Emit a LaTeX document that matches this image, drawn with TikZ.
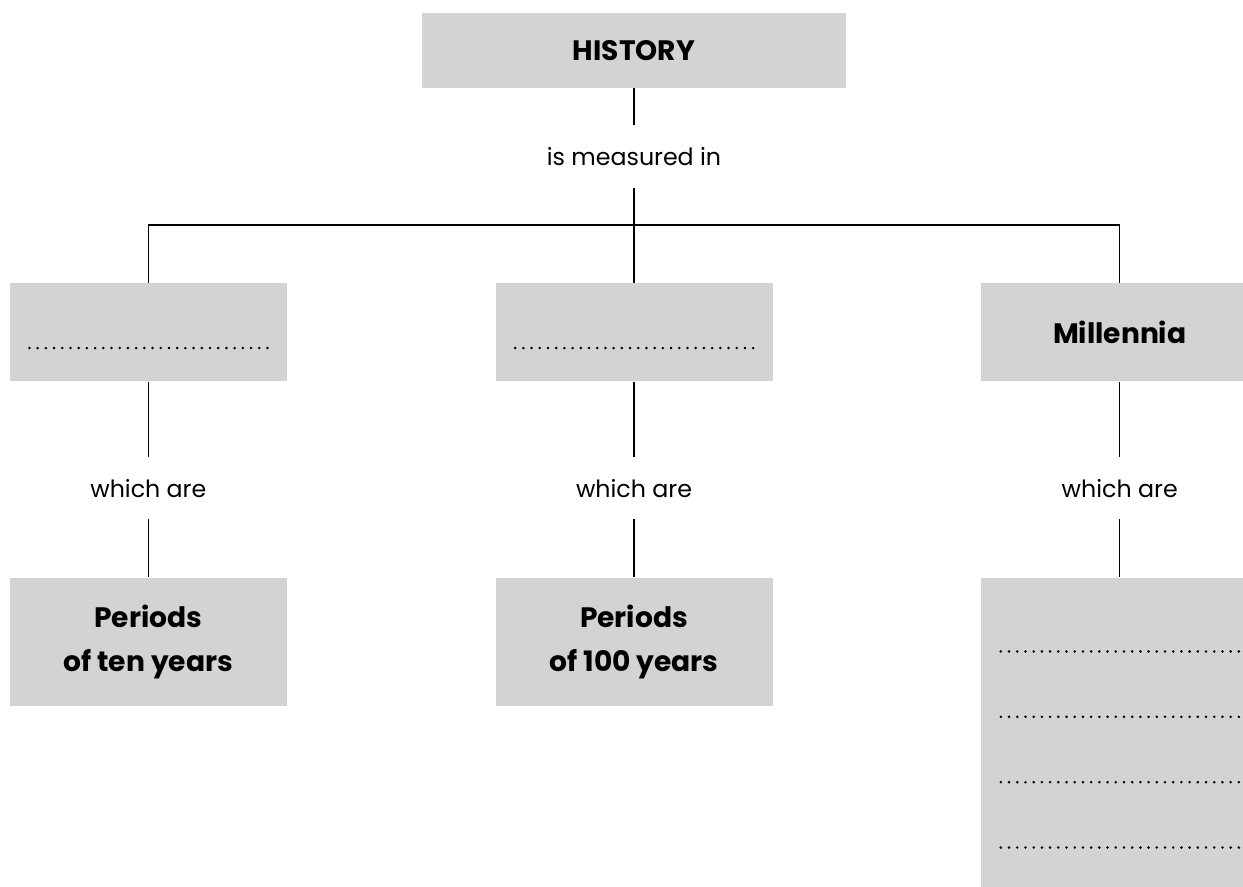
\documentclass[tikz,border=0pt]{standalone}
\usepackage{fontspec}
\setmainfont{Poppins}
\usepackage{xcolor}
\usepackage{tikz}
\usetikzlibrary{positioning,calc}
\definecolor{boxgray}{RGB}{209,211,212}
\tikzset{
    conceptbox/.style={fill=boxgray, align=center, inner sep=0pt, minimum width=5.54cm, minimum height=1.96cm, font=\fontsize{16}{25}\selectfont\bfseries},
    conceptlink/.style={align=center, inner sep=0pt, minimum height=1.24cm, font=\fontsize{13.5}{16}\selectfont},
    conceptline/.style={draw, line width=0.8pt},
    conceptgap/.style={draw, line width=1.6pt, line cap=round, dash pattern=on 0pt off 4.67pt}
}

\begin{document}
\begin{tikzpicture}[node distance=1.5cm and 4.16cm]
    \useasboundingbox (0,0) rectangle (24.86,-17.72);
    \clip (0,0) rectangle (24.86,-17.72);
    \node[conceptbox, minimum width=8.48cm, minimum height=1.5cm] (history) at (12.68,-1.01) {HISTORY};
    \node[conceptlink, below=0.74cm of history] (measured) {is measured in};
    \coordinate[below=0.74cm of measured] (split);
    \node[conceptbox, below=1.9cm of measured] (centuries) {};
    \node[conceptbox, left=of centuries] (decades) {};
    \node[conceptbox, right=of centuries] (millennia) {Millennia};
    \node[conceptlink, below=of decades] (whichdec) {which are};
    \node[conceptlink, below=of centuries] (whichcen) {which are};
    \node[conceptlink, below=of millennia] (whichmil) {which are};
    \node[conceptbox, minimum height=2.56cm, below=1.16cm of whichdec] (tenyears) {Periods\\of ten years};
    \node[conceptbox, minimum height=2.56cm, below=1.16cm of whichcen] (hundredyears) {Periods\\of 100 years};
    \node[conceptbox, minimum height=6.4cm, below=1.16cm of whichmil] (thousandyears) {};

    % blanks to fill in
    \draw[conceptgap] ($(decades.north west)+(0.4,-1.3)$) -- ++(4.9,0);
    \draw[conceptgap] ($(centuries.north west)+(0.4,-1.3)$) -- ++(4.9,0);
    \foreach \k in {0,...,3}
        \draw[conceptgap] ($(thousandyears.north west)+(0.4,-1.48-1.307*\k)$) -- ++(5.2,0);

    \draw[conceptline] (history) -- (measured);
    \draw[conceptline] (measured) -- (centuries);
    \draw[conceptline] (decades) |- (split) -| (millennia);
    \foreach \ua/\ub/\uc in {decades/whichdec/tenyears, centuries/whichcen/hundredyears, millennia/whichmil/thousandyears}
        \draw[conceptline] (\ua) -- (\ub) -- (\uc);
\end{tikzpicture}
\end{document}
